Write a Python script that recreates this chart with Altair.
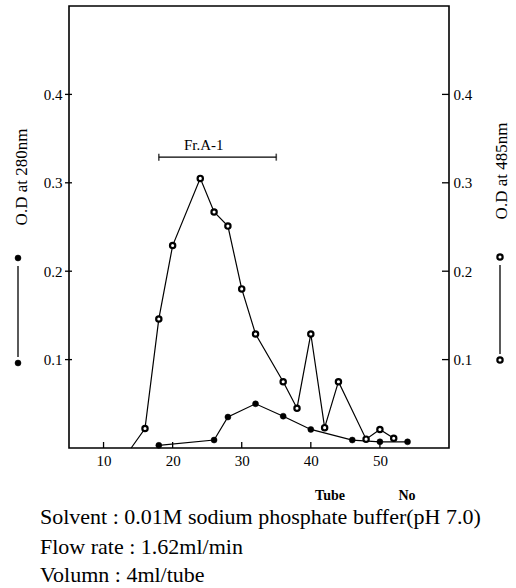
import altair as alt
import pandas as pd

# ---- data ----
tube_485 = [14, 16, 18, 20, 24, 26, 28, 30, 32, 36, 38, 40, 42, 44, 48, 50, 52]
od_485 = [0.0, 0.022, 0.146, 0.229, 0.305, 0.267, 0.251, 0.180, 0.129, 0.075,
          0.045, 0.129, 0.023, 0.075, 0.010, 0.021, 0.011]
tube_280 = [18, 26, 28, 32, 36, 40, 46, 50, 54]
od_280 = [0.003, 0.009, 0.035, 0.050, 0.036, 0.021, 0.009, 0.007, 0.007]
x_ticks = [10, 20, 30, 40, 50]
y_ticks = [0.1, 0.2, 0.3, 0.4]
frac_tubes = [18, 35]
frac_level = [0.329, 0.329]
frac_label = "Fr.A-1"
frac_label_pos = [24.5, 0.343]
left_title = "O.D at 280nm"
right_title = "O.D at 485nm"
x_word1 = "Tube"
x_word2 = "No"
notes = ["Solvent : 0.01M sodium phosphate buffer(pH 7.0)",
         "Flow rate : 1.62ml/min",
         "Volumn : 4ml/tube"]

SERIF = "Liberation Serif"
W, H = 380, 442

df485 = pd.DataFrame({"tube": tube_485, "od": od_485})
df280 = pd.DataFrame({"tube": tube_280, "od": od_280})
dfx = pd.DataFrame({"t": x_ticks})
dfy = pd.DataFrame({"v": y_ticks})
dffrac = pd.DataFrame({"tube": frac_tubes, "od": frac_level})
dflab = pd.DataFrame({"tube": [frac_label_pos[0]], "od": [frac_label_pos[1]], "label": [frac_label]})

xs = alt.Scale(domain=[5, 60], nice=False, zero=False)
ys = alt.Scale(domain=[0, 0.5], nice=False, zero=False)

left_axis = alt.Axis(values=y_ticks, format=".1f", ticks=False, domain=False, grid=False,
                     title=None, labelFont=SERIF, labelFontSize=15, labelPadding=7,
                     labelColor="black")
right_axis = alt.Axis(values=y_ticks, format=".1f", ticks=False, domain=False, grid=False,
                      title=None, labelFont=SERIF, labelFontSize=15, labelPadding=4,
                      labelColor="black", orient="right")
x_axis = alt.Axis(values=x_ticks, ticks=False, domain=False, grid=False, title=None,
                  labelFont=SERIF, labelFontSize=15, labelPadding=5, labelColor="black")

X = alt.X("tube:Q", scale=xs, axis=x_axis)

# 280 nm series (left axis)
line280 = alt.Chart(df280).mark_line(color="black", strokeWidth=1.2).encode(
    x=X, y=alt.Y("od:Q", scale=ys, axis=left_axis))
pts280 = alt.Chart(df280).mark_point(filled=True, fill="black", stroke="black",
                                     strokeWidth=0.5, size=36, opacity=1).encode(
    x=X, y=alt.Y("od:Q", scale=ys, axis=None))

# 485 nm series (right axis)
line485 = alt.Chart(df485).mark_line(color="black", strokeWidth=1.2).encode(
    x=X, y=alt.Y("od:Q", scale=ys, axis=right_axis))
pts485 = alt.Chart(df485).transform_filter("datum.tube > 14").mark_point(
    filled=True, fill="white", stroke="black", strokeWidth=2.2, size=28, opacity=1
).encode(x=X, y=alt.Y("od:Q", scale=ys, axis=None))

# tick marks drawn inward
xt = alt.Chart(dfx).mark_rule(color="black", strokeWidth=1.3).encode(
    x=alt.X("t:Q", scale=xs, axis=x_axis), y=alt.value(H - 6), y2=alt.value(H))
ytl = alt.Chart(dfy).mark_rule(color="black", strokeWidth=1.3).encode(
    y=alt.Y("v:Q", scale=ys, axis=None), x=alt.value(-4), x2=alt.value(3))
ytr = alt.Chart(dfy).mark_rule(color="black", strokeWidth=1.3).encode(
    y=alt.Y("v:Q", scale=ys, axis=None), x=alt.value(W - 7), x2=alt.value(W))

# fraction bar
fbar = alt.Chart(dffrac).mark_line(color="black", strokeWidth=1.3).encode(
    x=X, y=alt.Y("od:Q", scale=ys, axis=None))
fends = alt.Chart(dffrac).mark_tick(color="black", thickness=1.6, size=7,
                                    orient="vertical").encode(
    x=X, y=alt.Y("od:Q", scale=ys, axis=None))
flab = alt.Chart(dflab).mark_text(font=SERIF, fontSize=15, color="black").encode(
    x=X, y=alt.Y("od:Q", scale=ys, axis=None), text="label:N")

one = pd.DataFrame({"a": [0]})

def txt(s, x, y, size, angle=0, align="center", weight="normal"):
    return alt.Chart(one).mark_text(
        text=s, font=SERIF, fontSize=size, angle=angle, align=align,
        baseline="middle", fontWeight=weight, color="black"
    ).encode(x=alt.value(x), y=alt.value(y))

lt = txt(left_title, -47, 171, 17, angle=270)
rt = txt(right_title, 433, 165, 17, angle=270)

def key(x, y1, y2, fill):
    sw = 2.2 if fill == "white" else 0.5
    sz = 28 if fill == "white" else 36
    r = alt.Chart(one).mark_rule(color="black", strokeWidth=1.3).encode(
        x=alt.value(x), y=alt.value(y1 + 8), y2=alt.value(y2 - 6))
    p1 = alt.Chart(one).mark_point(filled=True, fill=fill, stroke="black", strokeWidth=sw,
                                   size=sz, opacity=1).encode(x=alt.value(x), y=alt.value(y1))
    p2 = alt.Chart(one).mark_point(filled=True, fill=fill, stroke="black", strokeWidth=sw,
                                   size=sz, opacity=1).encode(x=alt.value(x), y=alt.value(y2))
    return [r, p1, p2]

kl = key(-51, 252, 357, "black")
kr = key(431, 251, 354, "white")

tw1 = txt(x_word1, 261, 490, 14, weight="bold")
tw2 = txt(x_word2, 338, 490, 14, weight="bold")
n1 = txt(notes[0], -29, 511, 22, align="left")
n2 = txt(notes[1], -29, 541, 22, align="left")
n3 = txt(notes[2], -29, 569, 22, align="left")

chart = alt.layer(
    line280, line485, pts280, pts485, xt, ytl, ytr, fbar, fends, flab,
    lt, rt, *kl, *kr, tw1, tw2, n1, n2, n3
).resolve_scale(y="independent").properties(
    width=W, height=H,
    background="white",
    autosize=alt.AutoSizeParams(type="none"),
    padding={"left": 69, "top": 6, "right": 67, "bottom": 140},
).configure_view(stroke="black", strokeWidth=1.6).configure_axis(
    labelFont=SERIF, labelFontSize=15, labelColor="black")

chart.save("out.html", embed_options={"renderer": "svg", "actions": False})
